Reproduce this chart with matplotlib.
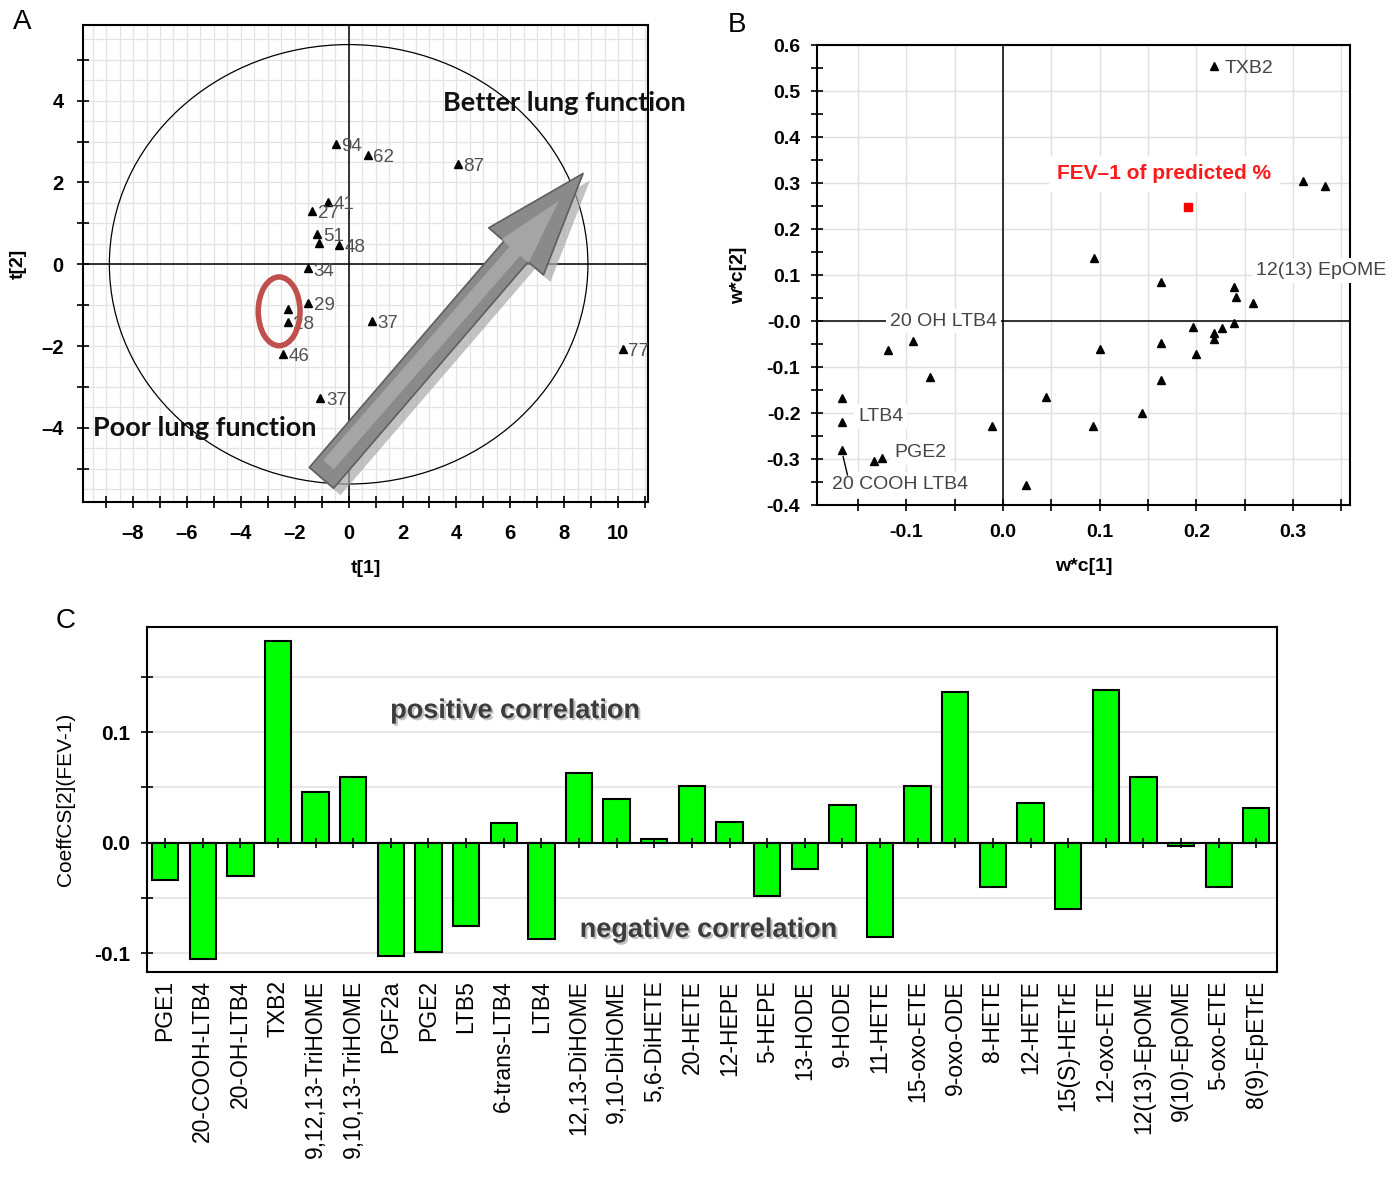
import numpy as np
import matplotlib.pyplot as plt
import matplotlib.patheffects as pe
from matplotlib.patches import Ellipse, FancyArrowPatch

plt.rcParams['font.family'] = ['Liberation Sans', 'DejaVu Sans']

# ---- Panel A: PLS scores ----
score_labels = ['94', '62', '87', '41', '27', '51', '', '48', '34', '29', '', '28', '37', '46', '37', '77']
score_t1 = [-0.47, 0.70, 4.06, -0.78, -1.36, -1.16, -1.09, -0.37, -1.51, -1.51, -2.26, -2.26, 0.85, -2.42, -1.05, 10.17]
score_t2 = [2.94, 2.67, 2.45, 1.52, 1.30, 0.75, 0.51, 0.47, -0.10, -0.95, -1.09, -1.41, -1.38, -2.19, -3.26, -2.06]

# ---- Panel B: loadings ----
load_x = [0.2185, 0.310, 0.333, 0.094, 0.163, 0.239, 0.241, 0.259, 0.239, 0.196, 0.226, 0.2185,
          0.2185, 0.163, 0.100, 0.200, 0.163, 0.144, 0.0926, 0.0444, -0.011, 0.024, -0.0933,
          -0.119, -0.076, -0.1667, -0.1667, -0.1667, -0.125, -0.134]
load_y = [0.555, 0.304, 0.293, 0.137, 0.086, 0.074, 0.053, 0.039, -0.004, -0.012, -0.016, -0.027,
          -0.040, -0.047, -0.060, -0.071, -0.129, -0.200, -0.228, -0.165, -0.228, -0.356, -0.044,
          -0.063, -0.122, -0.167, -0.220, -0.281, -0.297, -0.305]
fev_x = [0.191]
fev_y = [0.247]

# ---- Panel C: coefficients ----
lipids = ['PGE1', '20-COOH-LTB4', '20-OH-LTB4', 'TXB2', '9,12,13-TriHOME', '9,10,13-TriHOME',
          'PGF2a', 'PGE2', 'LTB5', '6-trans-LTB4', 'LTB4', '12,13-DiHOME', '9,10-DiHOME',
          '5,6-DiHETE', '20-HETE', '12-HEPE', '5-HEPE', '13-HODE', '9-HODE', '11-HETE',
          '15-oxo-ETE', '9-oxo-ODE', '8-HETE', '12-HETE', '15(S)-HETrE', '12-oxo-ETE',
          '12(13)-EpOME', '9(10)-EpOME', '5-oxo-ETE', '8(9)-EpETrE']
coeffs = [-0.034, -0.105, -0.030, 0.182, 0.0455, 0.059, -0.103, -0.099, -0.0755, 0.0176,
          -0.087, 0.063, 0.039, 0.0036, 0.051, 0.019, -0.048, -0.024, 0.0336, -0.0855,
          0.051, 0.136, -0.040, 0.0355, -0.060, 0.138, 0.059, -0.0027, -0.040, 0.031]

fig = plt.figure(figsize=(13.99, 11.77), dpi=100)

# ================= A =================
axA = fig.add_axes([0.0593, 0.5735, 0.4039, 0.4053])
axA.set_xlim(-9.86, 11.11)
axA.set_ylim(-5.81, 5.85)
axA.set_xticks(np.arange(-9, 12, 1), minor=True)
axA.set_xticks(np.arange(-8, 11, 2))
axA.set_yticks(np.arange(-5, 6, 1), minor=True)
axA.set_yticks(np.arange(-4, 5, 2))
for v in np.arange(-9.5, 11.1, 0.5):
    axA.axvline(v, color='#e3e3e3', lw=0.9, zorder=0)
for v in np.arange(-5.5, 5.9, 0.5):
    axA.axhline(v, color='#e3e3e3', lw=0.9, zorder=0)
axA.axhline(0, color='k', lw=1.1, zorder=1)
axA.axvline(0, color='k', lw=1.1, zorder=1)
axA.add_patch(Ellipse((0, 0), 2 * 8.88, 2 * 5.37, fill=False, ec='k', lw=0.9, zorder=2))
axA.plot(score_t1, score_t2, '^', color='k', ms=6, zorder=4)
for lab, x, y in zip(score_labels, score_t1, score_t2):
    if lab:
        axA.annotate(lab, (x, y), xytext=(4, -2), textcoords='offset points', va='center',
                     fontsize=13.5, color='#505050', zorder=4, annotation_clip=False)
axA.add_patch(Ellipse((-2.58, -1.15), 1.55, 1.68, fill=False, ec='#c0504d', lw=4, zorder=5))
arr_style = 'simple,head_length=74,head_width=52,tail_width=23'
arrow = FancyArrowPatch((-1.01, -5.22), (8.70, 2.22), arrowstyle=arr_style, mutation_scale=1,
                        shrinkA=0, shrinkB=0, fc='#8a8a8a', ec='#5e5e5e', lw=1.2, zorder=7,
                        path_effects=[pe.SimplePatchShadow(offset=(5, -5), shadow_rgbFace='#a8a8a8', alpha=0.7),
                                      pe.Normal()])
axA.add_patch(arrow)
inner = FancyArrowPatch((-0.75, -4.9), (7.8, 1.55), arrowstyle='simple,head_length=48,head_width=26,tail_width=10',
                        mutation_scale=1, shrinkA=0, shrinkB=0, fc='#b8b8b8', ec='none', alpha=0.6, zorder=8)
axA.add_patch(inner)
axA.text(3.5, 3.75, 'Better lung function', family=['Lato', 'DejaVu Sans'], fontweight='bold',
         fontsize=19.5, color='#111111', zorder=9, clip_on=False)
axA.text(-9.5, -4.2, 'Poor lung function', family=['Lato', 'DejaVu Sans'], fontweight='bold',
         fontsize=19.5, color='#111111', zorder=9)
axA.tick_params(which='both', direction='inout', length=8, width=1.2, labelsize=14.5)
axA.tick_params(axis='x', pad=12)
axA.tick_params(axis='y', pad=10)
axA.set_xticklabels([f'{v:d}'.replace('-', '\u2013') for v in range(-8, 11, 2)], fontweight='bold')
axA.set_yticklabels([f'{v:d}'.replace('-', '\u2013') for v in range(-4, 5, 2)], fontweight='bold')
axA.set_xlabel('t[1]', fontsize=14, fontweight='bold', labelpad=12)
axA.set_ylabel('t[2]', fontsize=14, fontweight='bold')
axA.yaxis.set_label_coords(-0.1, 0.5)
for s in axA.spines.values():
    s.set_linewidth(1.5)

# ================= B =================
axB = fig.add_axes([0.584, 0.5709, 0.381, 0.3908])
axB.set_xlim(-0.1926, 0.359)
axB.set_ylim(-0.4, 0.6)
axB.set_xticks(np.arange(-0.15, 0.36, 0.05), minor=True)
axB.set_xticks([-0.1, 0.0, 0.1, 0.2, 0.3])
axB.set_xticklabels(['-0.1', '0.0', '0.1', '0.2', '0.3'], fontweight='bold')
axB.set_yticks(np.arange(-0.4, 0.61, 0.05), minor=True)
axB.set_yticks(np.arange(-0.4, 0.61, 0.1))
axB.set_yticklabels(['-0.4', '-0.3', '-0.2', '-0.1', '-0.0', '0.1', '0.2', '0.3', '0.4', '0.5', '0.6'],
                    fontweight='bold')
for v in np.arange(-0.15, 0.36, 0.05):
    axB.axvline(v, color='#e0e0e0', lw=1.0, zorder=0)
for v in np.arange(-0.4, 0.61, 0.1):
    axB.axhline(v, color='#e0e0e0', lw=1.0, zorder=0)
axB.axhline(0, color='k', lw=1.1, zorder=1)
axB.axvline(0, color='k', lw=1.1, zorder=1)
axB.plot(load_x, load_y, '^', color='k', ms=6, zorder=4)
axB.plot(fev_x, fev_y, 's', color='#ff0000', ms=6, zorder=4)
wbox = dict(boxstyle='square,pad=0.2', fc='white', ec='none')
axB.text(0.1667, 0.32, 'FEV\u20131 of predicted %', color='#ff1a1a', fontsize=15, fontweight='bold',
         ha='center', va='center', bbox=dict(boxstyle='square,pad=0.4', fc='white', ec='none'), zorder=3)
axB.text(0.2296, 0.549, 'TXB2', fontsize=14, color='#444444', va='center', zorder=3)
axB.text(0.262, 0.1105, '12(13) EpOME', fontsize=14, color='#444444', va='center', zorder=3,
         bbox=wbox, clip_on=False)
axB.text(-0.062, 0.0, '20 OH LTB4', fontsize=14, color='#444444', va='center', ha='center',
         zorder=3, bbox=wbox)
axB.text(-0.150, -0.207, 'LTB4', fontsize=14, color='#444444', va='center', zorder=3, bbox=wbox)
axB.text(-0.113, -0.285, 'PGE2', fontsize=14, color='#444444', va='center', zorder=3, bbox=wbox)
axB.text(-0.177, -0.355, '20 COOH LTB4', fontsize=14, color='#444444', va='center', zorder=3,
         bbox=wbox)
axB.plot([-0.1656, -0.1611], [-0.2945, -0.3345], color='k', lw=1, zorder=4)
axB.tick_params(which='both', direction='inout', length=8, width=1.2, labelsize=14)
axB.tick_params(axis='x', pad=10)
axB.tick_params(axis='y', pad=8)
axB.set_xlabel('w*c[1]', fontsize=14, fontweight='bold', labelpad=12)
axB.set_ylabel('w*c[2]', fontsize=14, fontweight='bold', labelpad=14)
for s in axB.spines.values():
    s.set_linewidth(1.5)

# ================= C =================
axC = fig.add_axes([0.1051, 0.1742, 0.8077, 0.2931])
xi = np.arange(len(lipids))
axC.set_xlim(-0.48, len(lipids) - 0.45)
axC.set_ylim(-0.117, 0.195)
for v in [-0.1, -0.05, 0.05, 0.1, 0.15]:
    axC.axhline(v, color='#e3e3e3', lw=1.2, zorder=0)
axC.bar(xi, coeffs, width=0.7, color='#00ff00', edgecolor='k', lw=1.5, zorder=2)
axC.axhline(0, color='k', lw=1.5, zorder=3)
axC.plot(xi, np.zeros(len(xi)), '|', color='k', ms=7, mew=1.2, zorder=3)
axC.set_xticks(xi)
axC.set_xticklabels(lipids, rotation=90, fontsize=16.5)
axC.tick_params(axis='x', length=0, pad=6)
axC.set_yticks([-0.1, 0.0, 0.1])
axC.set_yticks([-0.1, -0.05, 0.0, 0.05, 0.1, 0.15], minor=True)
axC.set_yticklabels(['-0.1', '0.0', '0.1'], fontweight='bold')
axC.tick_params(axis='y', which='both', direction='inout', length=8, width=1.2, labelsize=15, pad=8)
axC.set_ylabel('CoeffCS[2](FEV-1)', fontsize=15, labelpad=14)
shadow_fx = [pe.withSimplePatchShadow(offset=(1.5, -1.5), shadow_rgbFace='#999999', alpha=0.6)]
axC.text(9.3, 0.119, 'positive correlation', fontsize=19.5, fontweight='bold', color='#3c3c3c',
         ha='center', va='center', path_effects=shadow_fx, zorder=4)
axC.text(14.44, -0.079, 'negative correlation', fontsize=19.5, fontweight='bold', color='#3c3c3c',
         ha='center', va='center', path_effects=shadow_fx, zorder=4)
for s in axC.spines.values():
    s.set_linewidth(1.5)

# panel letters
fig.text(0.0157, 0.981, 'A', fontsize=20, ha='center', va='center')
fig.text(0.527, 0.979, 'B', fontsize=20, ha='center', va='center')
fig.text(0.047, 0.472, 'C', fontsize=20, ha='center', va='center')

fig.savefig('out.png', dpi=100)
